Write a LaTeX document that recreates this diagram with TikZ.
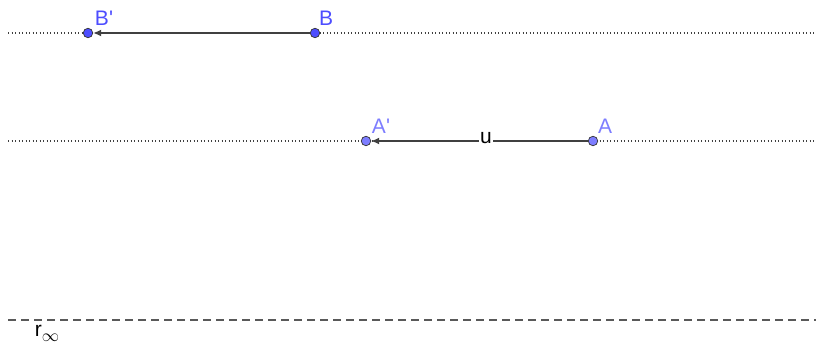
\documentclass[tikz,border=0pt]{standalone}
\usepackage{fontspec}
\setmainfont{Liberation Sans}
\usetikzlibrary{arrows.meta}
\definecolor{ptdark}{RGB}{77,77,255}
\definecolor{ptlight}{RGB}{125,125,255}
\definecolor{vec}{RGB}{64,64,64}
\tikzset{
  pt/.style={circle,inner sep=0pt,minimum size=9.5pt,draw=black!80,line width=0.7pt},
  lbl/.style={inner sep=0pt,font=\fontsize{21}{21}\selectfont},
  vecline/.style={draw=vec,line width=1.8pt,-{Latex[length=8pt,width=7pt]}},
  guide/.style={draw=black!75,line width=1.3pt,dash pattern=on 1.3pt off 2.2pt},
}
\begin{document}
\begin{tikzpicture}[x=1pt,y=-1pt]
\useasboundingbox (0,0) rectangle (816,348);
% lines
\coordinate (l1a) at (8,33); \coordinate (l1b) at (816,33);
\coordinate (l2a) at (8,141); \coordinate (l2b) at (816,141);
\coordinate (l3a) at (8,320); \coordinate (l3b) at (816,320);
\draw[guide] (l1a) -- (l1b);
\draw[guide] (l2a) -- (l2b);
\draw[draw=black!65,line width=1.2pt,dash pattern=on 8pt off 5pt] (l3a) -- (l3b);
% points
\node[pt,fill=ptdark] (B) at (315,33) {};
\node[pt,fill=ptdark] (Bp) at (88,33) {};
\node[pt,fill=ptlight] (A) at (593,141) {};
\node[pt,fill=ptlight] (Ap) at (366,141) {};
% vectors
\draw[vecline] (B) -- (Bp);
\draw[vecline] (A) -- (Ap);
\node[lbl,fill=white,inner xsep=1pt,text=black] (u) at (486,138.5) {u};
% labels
\node[lbl,text=ptdark] (lB) at (326,18) {B};
\node[lbl,text=ptdark] (lBp) at (104,18) {B\textquotesingle};
\node[lbl,text=ptlight] (lA) at (605,126) {A};
\node[lbl,text=ptlight] (lAp) at (381,126) {A\textquotesingle};
\node[lbl,text=black] (r) at (47,333) {r\raisebox{-5pt}{\fontsize{17}{17}\selectfont$\infty$}};
\end{tikzpicture}
\end{document}
